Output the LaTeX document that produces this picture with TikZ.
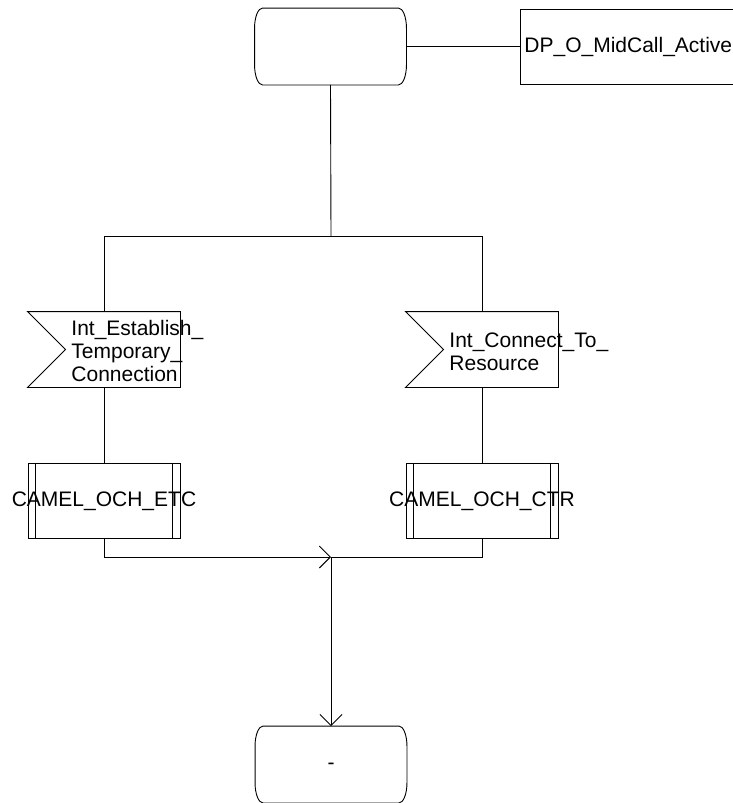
\documentclass[tikz,border=0pt]{standalone}
\usepackage{fontspec}
\setmainfont{Liberation Sans}
\usetikzlibrary{arrows.meta,calc}
\begin{document}
\begin{tikzpicture}[x=1pt,y=-1pt,
  line width=0.9pt,
  every node/.style={font=\fontsize{21}{23}\selectfont, inner sep=0pt},
  statebox/.style={rectangle, minimum width=151, minimum height=76},
  plainbox/.style={rectangle, draw, minimum width=213, minimum height=75},
  inbox/.style={rectangle, minimum width=152, minimum height=75},
  procbox/.style={rectangle, draw, minimum width=152, minimum height=75},
  arr/.style={-{Straight Barb[length=11pt,width=22pt,line width=0.9pt]}}
]
\useasboundingbox (0,0) rectangle (733,803);
% states
\node[statebox] (s1) at (330.5,46.5) {};
\node[statebox] (s2) at (331,764.5) {};
\foreach \n in {s1,s2}{
  \draw ($(\n.north west)+(8,0)$) -- ($(\n.north east)+(-8,0)$)
    .. controls ($(\n.north east)+(-3.6,0)$) and ($(\n.north east)+(0,9)$) .. ($(\n.north east)+(0,20)$)
    -- ($(\n.south east)+(0,-20)$)
    .. controls ($(\n.south east)+(0,-9)$) and ($(\n.south east)+(-3.6,0)$) .. ($(\n.south east)+(-8,0)$)
    -- ($(\n.south west)+(8,0)$)
    .. controls ($(\n.south west)+(3.6,0)$) and ($(\n.south west)+(0,-9)$) .. ($(\n.south west)+(0,-20)$)
    -- ($(\n.north west)+(0,20)$)
    .. controls ($(\n.north west)+(0,9)$) and ($(\n.north west)+(3.6,0)$) .. cycle;
}
\node[plainbox, anchor=west] (dp) at (520,46.5) {};
\node[anchor=west] (dpt) at (524,46.5) {DP\_O\_MidCall\_Active};
\draw (s1.east) -- (dp.west);
% inputs
\node[inbox] (in1) at (104,349.5) {};
\node[inbox] (in2) at (482,349.5) {};
\foreach \n in {in1,in2}{
  \draw (\n.north west) -- (\n.north east) -- (\n.south east) -- (\n.south west) -- ($(\n.west)+(38,0)$) -- cycle;
}
\node[anchor=west, align=left] (t1) at (71,351) {Int\_Establish\_\\Temporary\_\\Connection};
\node[anchor=west, align=left] (t2) at (449,352) {Int\_Connect\_To\_\\Resource};
% procedures
\node[procbox] (p1) at (104,500.5) {};
\node[procbox] (p2) at (482,500.5) {};
\foreach \n in {p1,p2}{
  \draw ($(\n.north west)+(8,0)$) -- ($(\n.south west)+(8,0)$);
  \draw ($(\n.north east)+(-8,0)$) -- ($(\n.south east)+(-8,0)$);
}
\node (pt1) at (104,501) {CAMEL\_OCH\_ETC};
\node (pt2) at (482,501) {CAMEL\_OCH\_CTR};
% bottom state text
\node (s2t) at (331,766) {-};
% connectors
\coordinate (j1) at (331,236);
\coordinate (j2) at (331,557);
\draw (s1.south) -- (j1);
\draw (j1) -| (in1.north);
\draw (j1) -| (in2.north);
\draw (in1.south) -- (p1.north);
\draw (in2.south) -- (p2.north);
\draw[arr] (p1.south) |- (j2);
\draw (p2.south) |- (j2);
\draw[arr] (j2) -- (s2.north);
\end{tikzpicture}
\end{document}
